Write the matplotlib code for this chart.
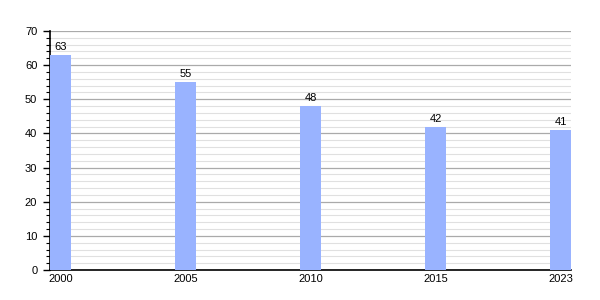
import numpy as np
import matplotlib.pyplot as plt
from matplotlib.ticker import MultipleLocator

years = ['2000', '2005', '2010', '2015', '2023']
values = [63, 55, 48, 42, 41]

plt.rcParams['font.family'] = ['Liberation Sans', 'DejaVu Sans']

fig = plt.figure(figsize=(6, 3), dpi=100)
ax = fig.add_axes([0.083, 0.1, 0.869, 0.797])

x = np.arange(len(years))
bw = 0.168
ax.bar(x, values, width=bw, color='#99b3ff', zorder=3)
for xi, v in zip(x, values):
    ax.text(xi, v + 0.8, str(v), ha='center', va='bottom', fontsize=8, zorder=4)

ax.set_xlim(-bw / 2 - 0.005, 4 + bw / 2)
ax.set_ylim(0, 70)
ax.set_xticks(x)
ax.set_xticklabels(years)
ax.yaxis.set_major_locator(MultipleLocator(10))
ax.yaxis.set_minor_locator(MultipleLocator(2))
ax.grid(True, axis='y', which='major', color='#aaaaaa', linewidth=0.9, zorder=1)
ax.grid(True, axis='y', which='minor', color='#e0e0e0', linewidth=0.8, zorder=1)

for s in ['top', 'right']:
    ax.spines[s].set_visible(False)
ax.spines['left'].set_linewidth(1.2)
ax.spines['bottom'].set_linewidth(1.2)
ax.tick_params(axis='y', which='major', length=5, width=1, labelsize=8, pad=4)
ax.tick_params(axis='y', which='minor', length=3, width=0.8)
ax.tick_params(axis='x', length=0, labelsize=8, pad=3)

fig.savefig('out.png')
